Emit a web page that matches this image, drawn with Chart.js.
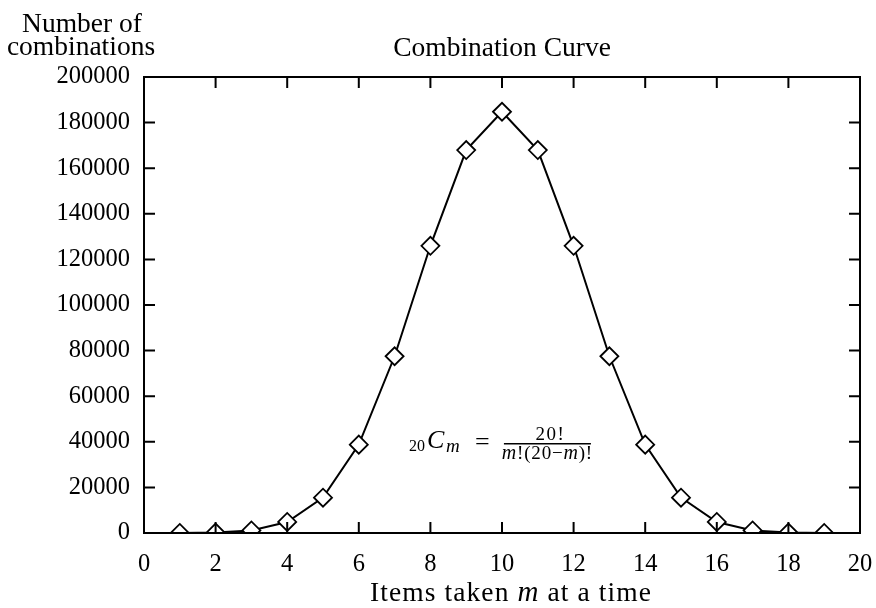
<!DOCTYPE html>
<html><head><meta charset="utf-8">
<script src="https://cdn.jsdelivr.net/npm/chart.js@4/dist/chart.umd.min.js"></script>
<style>html,body{margin:0;padding:0;background:#fff}#wrap{width:876px;height:608px}</style>
</head><body><div id="wrap"><canvas id="c" width="876" height="608"></canvas></div>
<script>
const itemsM = [1,2,3,4,5,6,7,8,9,10,11,12,13,14,15,16,17,18,19];
const combinations = [20,190,1140,4845,15504,38760,77520,125970,167960,184756,167960,125970,77520,38760,15504,4845,1140,190,20];
const xTicks = [0,2,4,6,8,10,12,14,16,18,20];
const yTicks = [0,20000,40000,60000,80000,100000,120000,140000,160000,180000,200000];
const chartTitle = "Combination Curve";
const yTitleLines = ["Number of","combinations"];
const formulaAnchor = {x:7.4, y:40000};

const SERIF = '"Liberation Serif","DejaVu Serif",serif';
function drawRuns(ctx, runs, x, y, align, ls){
  ctx.letterSpacing = (ls||0)+'px';
  let w=0; runs.forEach(r=>{ctx.font=r.f; w+=ctx.measureText(r.t).width;});
  let cx = align==='center'? x-w/2 : x;
  ctx.textAlign='left';
  runs.forEach(r=>{ctx.font=r.f; ctx.fillText(r.t,cx,y+(r.dy||0)); cx+=ctx.measureText(r.t).width;});
  ctx.letterSpacing='0px';
  return w;
}
const deco = {
  id:'deco',
  afterDraw(chart){
    const ctx=chart.ctx, a=chart.chartArea, xs=chart.scales.x, ys=chart.scales.y;
    ctx.save();
    ctx.strokeStyle='#000'; ctx.lineWidth=2;
    ctx.strokeRect(a.left,a.top,a.right-a.left,a.bottom-a.top);
    const tl=11;
    ctx.beginPath();
    xTicks.forEach(v=>{const p=xs.getPixelForValue(v);
      ctx.moveTo(p,a.bottom);ctx.lineTo(p,a.bottom-tl);
      ctx.moveTo(p,a.top);ctx.lineTo(p,a.top+tl);});
    yTicks.forEach(v=>{const p=ys.getPixelForValue(v);
      ctx.moveTo(a.left,p);ctx.lineTo(a.left+tl,p);
      ctx.moveTo(a.right,p);ctx.lineTo(a.right-tl,p);});
    ctx.stroke();
    ctx.fillStyle='#000'; ctx.textBaseline='alphabetic';
    const F='27.5px '+SERIF;
    // title
    drawRuns(ctx,[{t:chartTitle,f:F}],502,56,'center');
    // y title
    drawRuns(ctx,[{t:yTitleLines[0],f:F}],82,32,'center');
    drawRuns(ctx,[{t:yTitleLines[1],f:F}],81,55,'center');
    // x title
    drawRuns(ctx,[{t:'Items taken ',f:F},{t:'m',f:'italic 29px '+SERIF},{t:' at a time',f:F}],511,601,'center',1.1);
    // formula
    const fx=xs.getPixelForValue(formulaAnchor.x), fy=ys.getPixelForValue(formulaAnchor.y);
    drawRuns(ctx,[{t:'20',f:'16px '+SERIF}],fx,fy+9,'left');
    drawRuns(ctx,[{t:'C',f:'italic 26px '+SERIF}],fx+18,fy+6,'left');
    drawRuns(ctx,[{t:'m',f:'italic 19px '+SERIF}],fx+37,fy+10,'left');
    drawRuns(ctx,[{t:'=',f:'26px '+SERIF}],fx+66,fy+8,'left');
    const DF='19px '+SERIF, DI='italic 20px '+SERIF;
    const denRuns=[{t:'m',f:DI},{t:'!(20−',f:DF},{t:'m',f:DI},{t:')!',f:DF}];
    const f0=fx+95, f1=fx+182;
    ctx.lineWidth=1.4; ctx.beginPath(); ctx.moveTo(f0,fy+2); ctx.lineTo(f1,fy+2); ctx.stroke();
    drawRuns(ctx,[{t:'20!',f:DF}],(f0+f1)/2+3,fy-2,'center',1.5);
    drawRuns(ctx,denRuns,(f0+f1)/2,fy+17,'center',0.8);
    ctx.restore();
  }
};
new Chart(document.getElementById('c'),{
  type:'line',
  data:{datasets:[{
    data:itemsM.map((m,i)=>({x:m,y:combinations[i]})),
    borderColor:'#000',borderWidth:2,tension:0,
    pointStyle:'rectRot',pointRadius:9,pointBorderWidth:1.8,
    pointBackgroundColor:'#fff',pointBorderColor:'#000'
  }]},
  options:{
    responsive:false,animation:false,
    layout:{padding:{top:77,right:16,left:0,bottom:0}},
    plugins:{legend:{display:false},tooltip:{enabled:false},title:{display:false}},
    scales:{
      x:{type:'linear',min:0,max:20,
        afterBuildTicks:s=>{s.ticks=xTicks.map(v=>({value:v}));},
        afterFit:s=>{s.height=75;s.paddingLeft=0;s.paddingRight=0;},
        grid:{display:false,drawTicks:false},border:{display:false},
        ticks:{color:'#000',padding:17,font:{family:SERIF,size:24.5},maxRotation:0}},
      y:{type:'linear',min:0,max:200000,
        afterBuildTicks:s=>{s.ticks=yTicks.map(v=>({value:v}));},
        afterFit:s=>{s.width=144;s.paddingTop=0;s.paddingBottom=0;},
        grid:{display:false,drawTicks:false},border:{display:false},
        ticks:{color:'#000',padding:14,font:{family:SERIF,size:24.5},callback:v=>String(v)}}
    }
  },
  plugins:[deco]
});
</script></body></html>
